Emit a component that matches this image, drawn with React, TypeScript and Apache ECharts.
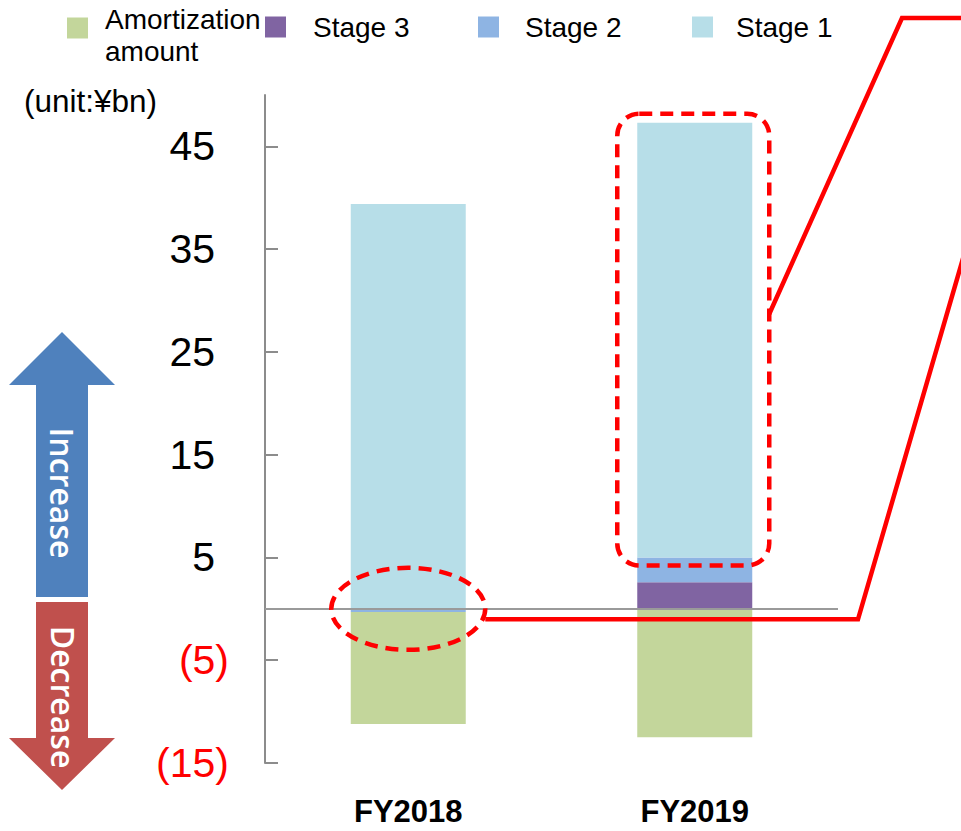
import React, { useEffect, useRef } from 'react';
import * as echarts from 'echarts';

// Credit-cost breakdown by stage (unit: ¥bn)
const categories = ['FY2018', 'FY2019'];
const stage3 = [0, 2.6];
const stage2 = [-0.3, 2.4];
const stage1 = [39.4, 42.3];
const amortization = [-10.9, -12.5];
const tickValues = [-15, -5, 5, 15, 25, 35, 45];
const unitLabel = '(unit:¥bn)';

const AMORT = 'Amortization amount';
const COLORS: Record<string, string> = {
  [AMORT]: '#C3D69B',
  'Stage 3': '#8064A2',
  'Stage 2': '#8EB4E3',
  'Stage 1': '#B7DEE8',
};

const FONT = "'Liberation Sans', Arial, sans-serif";
const RED = '#FF0000';

function legendAt(name: string, left: number, top: number, padLeft: number) {
  return {
    data: [name],
    left,
    top,
    padding: 0,
    itemWidth: 21,
    itemHeight: 21,
    icon: 'rect',
    selectedMode: false,
    // the long name is split over two lines, with a thin spacer line on top
    formatter: (n: string) =>
      n === AMORT ? '{g| }\n{t|Amortization}\n{t|amount}' : n,
    textStyle: {
      fontSize: 28,
      fontFamily: FONT,
      color: '#000',
      lineHeight: 32,
      padding: [0, 0, 0, padLeft],
      rich: {
        g: { fontSize: 4, lineHeight: 14 },
        t: { fontSize: 28, lineHeight: 32, fontFamily: FONT, color: '#000' },
      },
    },
  };
}

export default function App() {
  const ref = useRef<HTMLDivElement>(null);

  useEffect(() => {
    if (!ref.current) return;
    const chart = echarts.init(ref.current, null, { renderer: 'svg' });

    const barSeries = (name: string, data: number[]) => ({
      name,
      type: 'bar',
      stack: 'total',
      barWidth: 115,
      data,
      itemStyle: { color: COLORS[name] },
      emphasis: { disabled: true },
    });

    const stage1Series: any = barSeries('Stage 1', stage1);
    stage1Series.markLine = {
      silent: true,
      symbol: ['none', 'none'],
      label: { show: false },
      lineStyle: { color: '#9a9a9a', width: 2, type: 'solid' },
      data: [{ yAxis: 0 }],
    };

    chart.setOption({
      animation: false,
      textStyle: { fontFamily: FONT },
      grid: { left: 265, right: 123, top: 95, bottom: 68 },
      legend: [
        legendAt(AMORT, 67, -11, 12),
        legendAt('Stage 3', 265, 11, 22),
        legendAt('Stage 2', 478, 11, 21),
        legendAt('Stage 1', 692, 11, 18),
      ],
      xAxis: {
        type: 'category',
        data: categories,
        axisLine: { show: false, onZero: false },
        axisTick: { show: false },
        axisLabel: {
          margin: 33,
          fontSize: 31,
          fontWeight: 'bold',
          color: '#000',
          fontFamily: FONT,
        },
      },
      yAxis: {
        type: 'value',
        min: -15,
        max: 50,
        splitLine: { show: false },
        axisLine: { show: true, lineStyle: { color: '#8c8c8c', width: 2 } },
        axisTick: {
          show: true,
          inside: true,
          length: 13,
          customValues: tickValues,
          lineStyle: { color: '#8c8c8c', width: 2 },
        },
        axisLabel: {
          customValues: tickValues,
          margin: 36,
          formatter: (v: number) => (v < 0 ? `{neg|(${-v})}` : `{pos|${v}}`),
          rich: {
            neg: { color: RED, fontSize: 41, fontFamily: FONT },
            pos: { color: '#000', fontSize: 41, fontFamily: FONT, padding: [0, 14, 0, 0] },
          },
        },
      },
      series: [
        barSeries('Stage 3', stage3),
        barSeries('Stage 2', stage2),
        stage1Series,
        barSeries(AMORT, amortization),
      ],
    });

    // Annotation callouts placed from the axis scales
    const toPx = (cat: string, v: number) =>
      chart.convertToPixel({ gridIndex: 0 }, [cat, v]) as number[];
    const [ex, ey] = toPx(categories[0], 0);
    const lowerTop = stage3[1] + stage2[1];
    const upperTop = lowerTop + stage1[1];
    const [bx, yTop] = toPx(categories[1], upperTop);
    const [, yLow] = toPx(categories[1], lowerTop);
    const rectLeft = bx - 57.5 - 20;
    const rectRight = bx + 57.5 + 17;
    const rectTop = yTop - 9;
    const rectBottom = yLow + 8;
    const erx = 77;
    const ery = 41;

    const redLine = { stroke: RED, lineWidth: 4.5, fill: 'none' };
    const arrowText = {
      fill: '#fff',
      fontSize: 32,
      fontWeight: 600,
      fontFamily: "'Open Sans', sans-serif",
      align: 'center',
      verticalAlign: 'middle',
    };

    chart.setOption({
      graphic: [
        {
          type: 'text',
          left: 24,
          top: 85,
          style: { text: unitLabel, fontSize: 31.5, fontFamily: FONT, fill: '#000' },
        },
        {
          type: 'polygon',
          shape: {
            points: [
              [62, 332], [115, 385], [88, 385], [88, 597], [36, 597], [36, 385], [9, 385],
            ],
          },
          style: { fill: '#4F81BD' },
        },
        {
          type: 'polygon',
          shape: {
            points: [
              [36, 602], [88, 602], [88, 738], [115, 738], [62, 790], [9, 738], [36, 738],
            ],
          },
          style: { fill: '#C0504D' },
        },
        {
          type: 'text',
          x: 62,
          y: 493,
          rotation: -Math.PI / 2,
          style: { ...arrowText, text: 'Increase' },
        },
        {
          type: 'text',
          x: 63,
          y: 697,
          rotation: -Math.PI / 2,
          style: { ...arrowText, text: 'Decrease' },
        },
        {
          type: 'ellipse',
          shape: { cx: ex, cy: ey, rx: erx, ry: ery },
          style: { fill: 'none', stroke: RED, lineWidth: 4.5, lineDash: [13, 8] },
          z: 100,
        },
        {
          type: 'rect',
          shape: {
            x: rectLeft,
            y: rectTop,
            width: rectRight - rectLeft,
            height: rectBottom - rectTop,
            r: 22,
          },
          style: { fill: 'none', stroke: RED, lineWidth: 4.5, lineDash: [13, 8] },
          z: 100,
        },
        {
          type: 'polyline',
          shape: {
            points: [
              [ex + erx, ey + 10.5],
              [858, ey + 10.5],
              [970, ey + 10.5 - 354 * (112 / 103)],
            ],
          },
          style: redLine,
          z: 100,
        },
        {
          type: 'polyline',
          shape: {
            points: [
              [rectRight, 314],
              [902, 18],
              [970, 18],
            ],
          },
          style: redLine,
          z: 100,
        },
      ],
    });

    return () => chart.dispose();
  }, []);

  return (
    <div
      ref={ref}
      style={{ position: 'fixed', left: 0, top: 0, width: 961, height: 831, background: '#fff' }}
    />
  );
}
